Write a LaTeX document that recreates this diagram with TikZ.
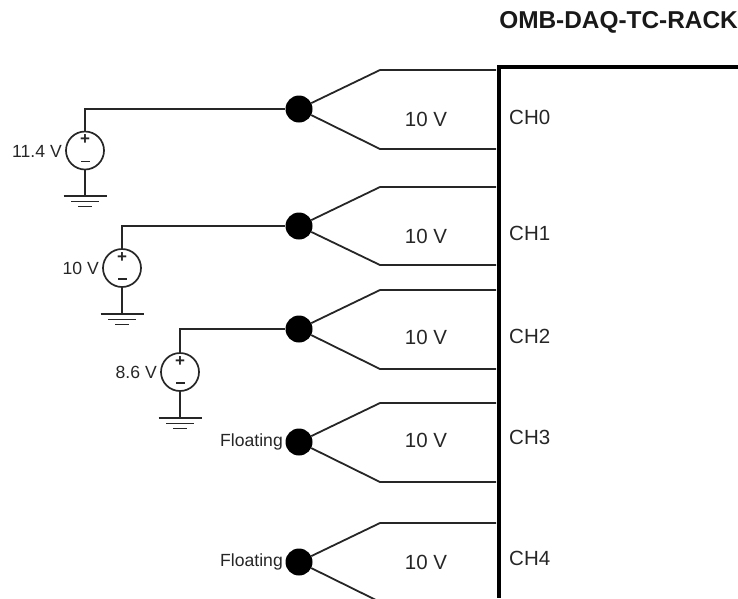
\documentclass[tikz,border=0pt]{standalone}
\usepackage{fontspec}
\setmainfont{Liberation Sans}
\tikzset{
  wire/.style={line width=1.8pt,draw=black!85},
  rack/.style={line width=3.4pt,draw=black},
  junction/.style={circle,fill=black,draw=none,minimum size=27pt,inner sep=0pt},
  source/.style={circle,draw=black!85,line width=1.7pt,minimum size=38pt,inner sep=0pt},
  volt/.style={font=\fontsize{20.5}{24}\selectfont,text=black!85,inner sep=0pt},
  small/.style={font=\fontsize{17.6}{20}\selectfont,text=black!85,inner sep=0pt},
  title/.style={font=\fontsize{24.4}{28}\selectfont\bfseries,text=black!90,inner sep=0pt},
  sign/.style={font=\fontsize{17}{18}\selectfont\bfseries,text=black!85,inner sep=0pt}
}
\newcommand{\thermo}[5]{% name, junction y, top y, bottom y, end x
  \node[junction] (j#1) at (299,#2) {};
  \coordinate (kt#1) at (380,#3);
  \coordinate (et#1) at (496,#3);
  \coordinate (kb#1) at (380,#4);
  \coordinate (eb#1) at (496,#4);
  \draw[wire] (j#1) -- (kt#1) -- (et#1);
  \draw[wire] (j#1) -- (kb#1) -- (eb#1);
  \node[volt] at (426,#5) {10 V};
}
\newcommand{\vsource}[6]{% name, x, y, ground-y, junction name, label
  \node[source] (s#1) at (#2,#3) {};
  \node[sign] at (#2,#3-10.5) {+};
  \node[inner sep=0pt,fill=black!85,minimum width=9pt,minimum height=1.6pt] at (#2,#3+11) {};
  \node[small,anchor=east] at (#2-23,#3+0.5) {#6};
  \coordinate (g#1) at (#2,#4);
  \draw[wire] (s#1.north) |- (#5);
  \draw[wire] (s#1.south) -- (g#1);
  \coordinate (ga#1) at (#2-21.5,#4);
  \coordinate (gb#1) at (#2+21.5,#4);
  \coordinate (gc#1) at (#2-14,#4+5.5);
  \coordinate (gd#1) at (#2+14,#4+5.5);
  \coordinate (ge#1) at (#2-7,#4+10.5);
  \coordinate (gf#1) at (#2+7,#4+10.5);
  \draw[wire] (ga#1) -- (gb#1);
  \draw[wire] (gc#1) -- (gd#1);
  \draw[wire] (ge#1) -- (gf#1);
}
\begin{document}
\begin{tikzpicture}[x=1pt,y=-1pt]
\useasboundingbox (0,0) rectangle (738,598);
\clip (0,0) rectangle (738,598);
\node[title,anchor=base east] (head) at (738,28) {OMB-DAQ-TC-RACK};
\coordinate (rtop) at (499,67);
\coordinate (rright) at (738,67);
\coordinate (rbot) at (499,598);
\draw[rack] (rright) -- (rtop) -- (rbot);
\thermo{0}{109}{70}{149}{119}
\thermo{1}{226}{187}{265}{236}
\thermo{2}{329}{290}{369}{337}
\thermo{3}{442}{403}{482}{440}
\thermo{4}{562}{523}{602}{562}
\vsource{0}{85}{150.5}{196}{j0}{11.4 V}
\vsource{1}{122}{268}{314}{j1}{10 V}
\vsource{2}{180}{372}{418}{j2}{8.6 V}
\node[small,anchor=east] at (283,442) {Floating};
\node[small,anchor=east] at (283,562) {Floating};
\node[volt,anchor=west] at (509,117) {CH0};
\node[volt,anchor=west] at (509,233) {CH1};
\node[volt,anchor=west] at (509,336) {CH2};
\node[volt,anchor=west] at (509,437) {CH3};
\node[volt,anchor=west] at (509,558) {CH4};
\end{tikzpicture}
\end{document}
